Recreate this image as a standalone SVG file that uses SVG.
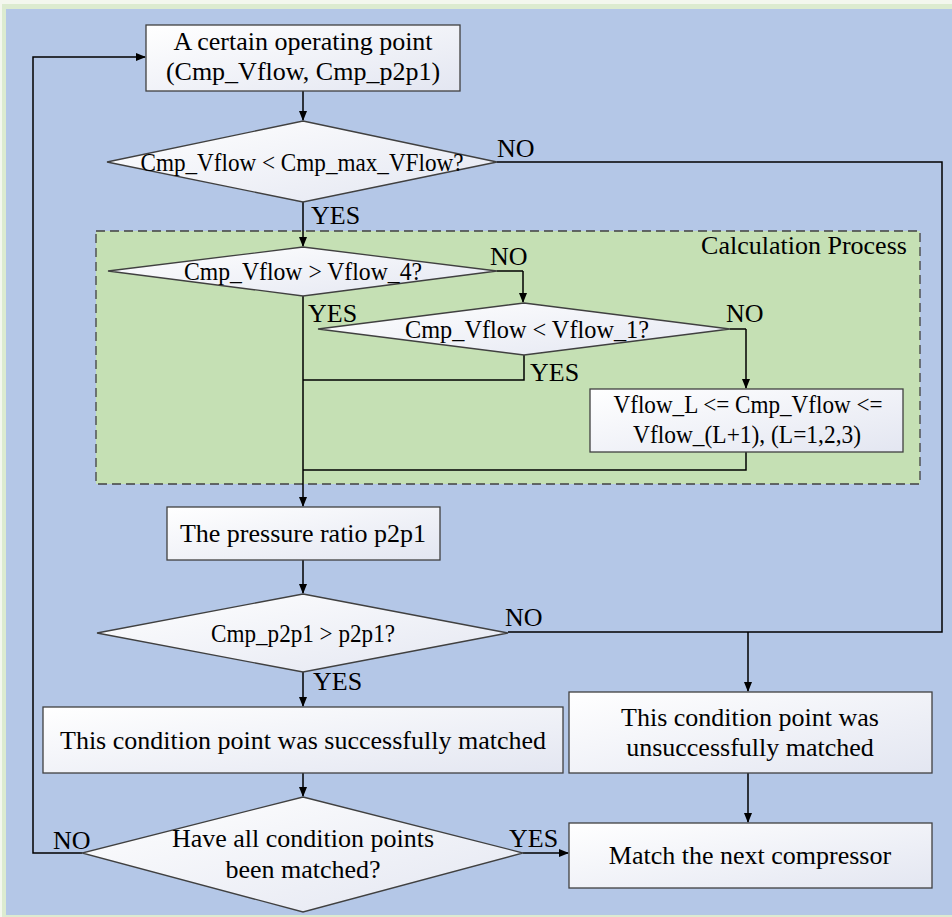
<svg xmlns="http://www.w3.org/2000/svg" width="952" height="917" viewBox="0 0 952 917">
<defs>
<linearGradient id="g" x1="0" y1="0" x2="1" y2="1">
<stop offset="0" stop-color="#ffffff"/>
<stop offset="1" stop-color="#e3e6f1"/>
</linearGradient>
<marker id="ah" markerWidth="10" markerHeight="8" refX="9" refY="4" orient="auto" markerUnits="userSpaceOnUse">
<path d="M0,0 L10,4 L0,8 Z" fill="#000"/>
</marker>
<style>
.box{fill:url(#g);stroke:#404040;stroke-width:1.3}
.t{font-family:"Liberation Serif","Times New Roman",serif;font-size:26px;fill:#000;text-anchor:middle}
.l{font-family:"Liberation Serif","Times New Roman",serif;font-size:26px;fill:#000}
.c{fill:none;stroke:#000;stroke-width:1.5}
.a{marker-end:url(#ah)}
</style>
</defs>
<rect x="0" y="0" width="952" height="917" fill="#f3f7ee"/>
<rect x="2" y="4" width="950" height="913" fill="#dcebd0"/>
<rect x="6" y="9" width="946" height="906" fill="#b4c7e7"/>
<g id="calc-process">
<rect x="96" y="231" width="824" height="253" fill="#c5e0b4" stroke="#404040" stroke-width="1.3" stroke-dasharray="9,5"/>
<text class="t" x="804" y="254">Calculation Process</text>
</g>
<g id="connectors">
<path class="c a" d="M303,91 V120"/>
<path class="c a" d="M303,202 V246"/>
<path class="c" d="M497,162 H942 V632 H508"/>
<path class="c a" d="M748,632 V691"/>
<path class="c" d="M497,271 H523"/>
<path class="c a" d="M523,271 V302"/>
<path class="c" d="M524,355 V380 H303"/>
<path class="c" d="M730,329 H746"/>
<path class="c a" d="M746,329 V388"/>
<path class="c" d="M746,452 V470 H303"/>
<path class="c a" d="M303,296 V506"/>
<path class="c a" d="M303,560 V593"/>
<path class="c a" d="M303,672 V706"/>
<path class="c a" d="M303,773 V796"/>
<path class="c a" d="M748,773 V822"/>
<path class="c a" d="M523,853 H568"/>
<path class="c a" d="M82,853 H33 V57 H145"/>
<text class="l" x="497" y="157">NO</text>
<text class="l" x="311" y="224">YES</text>
<text class="l" x="490" y="265">NO</text>
<text class="l" x="308" y="322">YES</text>
<text class="l" x="726" y="322">NO</text>
<text class="l" x="530" y="381">YES</text>
<text class="l" x="505" y="626">NO</text>
<text class="l" x="313" y="690">YES</text>
<text class="l" x="53" y="849">NO</text>
<text class="l" x="509" y="847">YES</text>
</g>
<g id="start">
<rect class="box" x="146" y="25" width="314" height="66"/>
<text class="t" x="303" y="50">A certain operating point</text>
<text class="t" x="303" y="80">(Cmp_Vflow, Cmp_p2p1)</text>
</g>
<g id="check-max">
<polygon class="box" points="303,121 497,162 303,202 107,162"/>
<text class="t" x="302" y="171" textLength="323" lengthAdjust="spacingAndGlyphs">Cmp_Vflow &lt; Cmp_max_VFlow?</text>
</g>
<g id="check-v4">
<polygon class="box" points="303,247 497,271 303,296 108,271"/>
<text class="t" x="303" y="280" textLength="238" lengthAdjust="spacingAndGlyphs">Cmp_Vflow &gt; Vflow_4?</text>
</g>
<g id="check-v1">
<polygon class="box" points="524,303 730,329 524,355 318,329"/>
<text class="t" x="527" y="338" textLength="244" lengthAdjust="spacingAndGlyphs">Cmp_Vflow &lt; Vflow_1?</text>
</g>
<g id="range">
<rect class="box" x="590" y="389" width="313" height="63"/>
<text class="t" x="748" y="413" textLength="269" lengthAdjust="spacingAndGlyphs">Vflow_L &lt;= Cmp_Vflow &lt;=</text>
<text class="t" x="747" y="443" textLength="228" lengthAdjust="spacingAndGlyphs">Vflow_(L+1), (L=1,2,3)</text>
</g>
<g id="pressure">
<rect class="box" x="167" y="507" width="273" height="53"/>
<text class="t" x="303" y="542">The pressure ratio p2p1</text>
</g>
<g id="check-p">
<polygon class="box" points="303,594 508,633 303,672 97,633"/>
<text class="t" x="303" y="642" textLength="184" lengthAdjust="spacingAndGlyphs">Cmp_p2p1 &gt; p2p1?</text>
</g>
<g id="success">
<rect class="box" x="43" y="707" width="520" height="66"/>
<text class="t" x="303" y="749">This condition point was successfully matched</text>
</g>
<g id="fail">
<rect class="box" x="569" y="692" width="363" height="81"/>
<text class="t" x="750" y="726">This condition point was</text>
<text class="t" x="750" y="756">unsuccessfully matched</text>
</g>
<g id="check-all">
<polygon class="box" points="303,797 523,853 303,912 82,853"/>
<text class="t" x="303" y="847">Have all condition points</text>
<text class="t" x="303" y="878">been matched?</text>
</g>
<g id="next">
<rect class="box" x="569" y="823" width="363" height="65"/>
<text class="t" x="750" y="864">Match the next compressor</text>
</g>
</svg>
